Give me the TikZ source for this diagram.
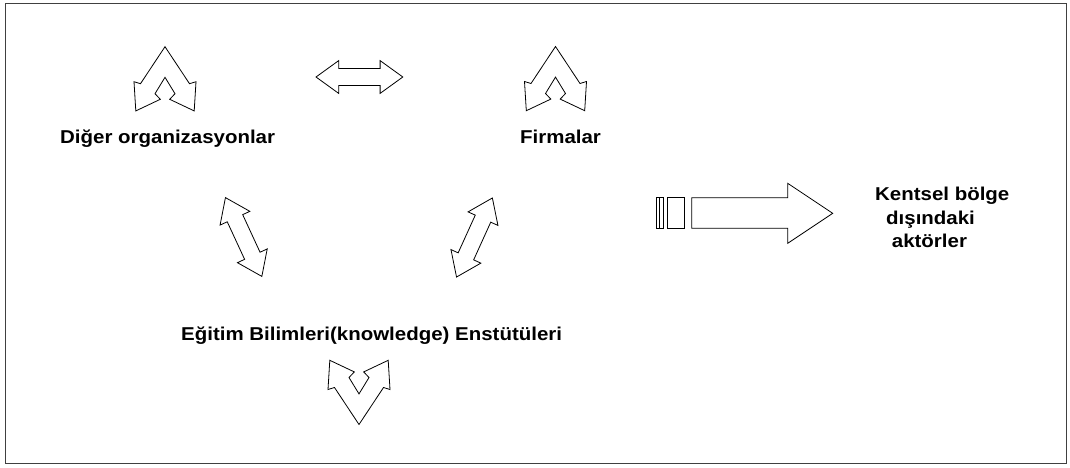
\documentclass[tikz,border=0pt]{standalone}
\usepackage{fontspec}
\newfontfamily\labelfont{Liberation Sans}[FakeStretch=1.1]
\begin{document}
\begin{tikzpicture}[x=1pt,y=-1pt,
  frame line/.style={draw=black!75,line width=0.9pt},
  shape line/.style={draw=black,line width=0.8pt,line join=miter,fill=white},
  label text/.style={font=\labelfont\bfseries\fontsize{18.6}{22}\selectfont,
    inner sep=0pt,anchor=base west,text=black},
  % straight block arrow with a head at both ends
  dblarrow/.pic={
    \path[shape line] (-43.4,0) -- (-20.7,-16.4) -- (-20.7,-8.5) -- (20.7,-8.5)
      -- (20.7,-16.4) -- (43.4,0) -- (20.7,16.4) -- (20.7,8.5) -- (-20.7,8.5)
      -- (-20.7,16.4) -- cycle;},
  % bent block arrow: two arms from a common apex, each ending in a head
  forkarrow/.pic={
    \path[shape line] (0,0) -- (24.5,37) -- (31,35) -- (29.2,64.2) -- (4.7,52.6)
      -- (10,47) -- (0,30.6) -- (-10,47) -- (-4.7,52.6) -- (-29.2,64.2)
      -- (-31,35) -- (-24.5,37) -- cycle;}
]
\useasboundingbox (0,0) rectangle (1070,467);
\fill[white] (0,0) rectangle (1070,467);

% outer frame
\draw[frame line] (5,3) rectangle (1066,463);

% anchor points of the block arrows
\coordinate (forkL) at (165,46.7);
\coordinate (forkR) at (555.5,46.5);
\coordinate (forkB) at (359,424.5);
\coordinate (linkTop) at (359.4,77);
\coordinate (linkLeft) at (243.65,237);
\coordinate (linkRight) at (474.45,237.5);

\pic at (forkL) {forkarrow};
\pic at (forkR) {forkarrow};
\pic[yscale=-1] at (forkB) {forkarrow};
\pic at (linkTop) {dblarrow};
\pic[rotate=-65.2] at (linkLeft) {dblarrow};
\pic[rotate=65.6] at (linkRight) {dblarrow};

% outward arrow with its two trailing bars
\path[shape line] (656.7,197.7) rectangle (663.3,228.3);
\draw[black,line width=0.6pt] (659,197.7) -- (659,228.3);
\path[shape line] (667.3,197.7) rectangle (684.3,228.3);
\path[shape line] (691.7,197.7) -- (787.7,197.7) -- (787.7,183.3) -- (832.7,213.3)
  -- (787.7,243.3) -- (787.7,228.3) -- (691.7,228.3) -- cycle;

% labels
\node[label text] (diger) at (60,143) {Diğer organizasyonlar};
\node[label text] (firma) at (520,143) {Firmalar};
\node[label text] (egitim) at (181,340) {Eğitim Bilimleri(knowledge) Enstütüleri};
\node[label text] (kb1) at (875,200) {Kentsel bölge};
\node[label text] (kb2) at (886,224.3) {dışındaki};
\node[label text] (kb3) at (891.7,247.7) {aktörler};
\end{tikzpicture}
\end{document}
